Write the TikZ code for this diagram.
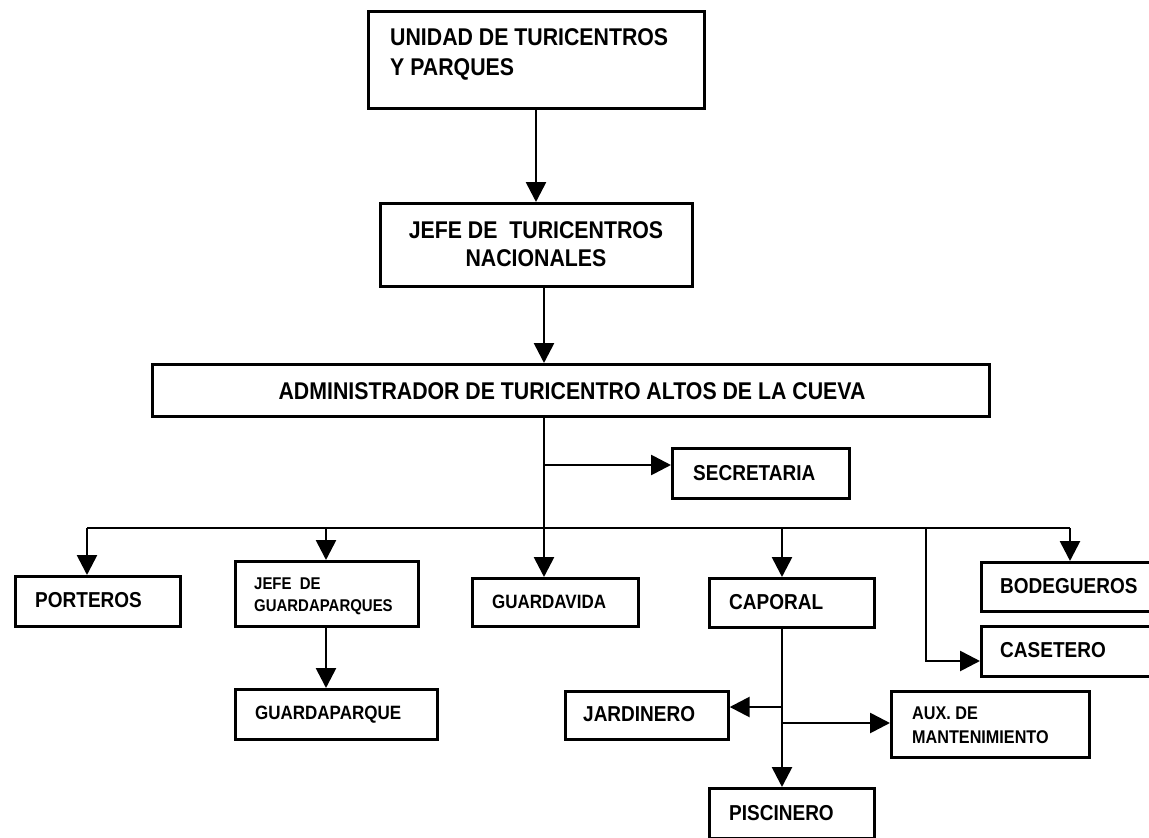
\documentclass[tikz,border=0pt]{standalone}
\usepackage{fontspec}
\setmainfont{Liberation Sans}[FakeStretch=0.88]
\usetikzlibrary{arrows.meta}
\begin{document}
\begin{tikzpicture}[x=1pt,y=-1pt,
  box/.style={draw, line width=2.7pt, inner sep=0pt, anchor=north west},
  conn/.style={line width=2.7pt, -{Triangle[length=20pt,width=20pt]}},
  plain/.style={line width=2.7pt},
  txt/.style={inner sep=0pt, anchor=west, text depth=0pt},
  bigtxt/.style={txt, font=\fontsize{24.2}{25}\selectfont\bfseries, text height=17.3pt},
  midtxt/.style={txt, font=\fontsize{21.6}{22}\selectfont\bfseries, text height=15.5pt},
  smalltxt/.style={txt, font=\fontsize{19.3}{20}\selectfont\bfseries, text height=13.8pt},
  tinytxt/.style={txt, font=\fontsize{17}{18}\selectfont\bfseries, text height=12.2pt},
  auxtxt/.style={txt, font=\fontsize{18.4}{19}\selectfont\bfseries, text height=13.2pt}]
\useasboundingbox (0,0) rectangle (1149,838);
\fill[white] (0,0) rectangle (1149,838);
% boxes
\node[box, minimum width=336pt, minimum height=97pt] (unidad) at (367,10) {};
\node[box, minimum width=312pt, minimum height=83pt] (jefe) at (379,202) {};
\node[box, minimum width=837pt, minimum height=52pt] (admin) at (151,363) {};
\node[box, minimum width=177pt, minimum height=50pt] (sec) at (671,447) {};
\node[box, minimum width=165pt, minimum height=50pt] (port) at (14,575) {};
\node[box, minimum width=183pt, minimum height=65pt] (jefeg) at (234,560) {};
\node[box, minimum width=166pt, minimum height=48pt] (gvida) at (471,577) {};
\node[box, minimum width=165pt, minimum height=49pt] (cap) at (708,577) {};
\node[box, minimum width=178pt, minimum height=49pt] (bod) at (980,561) {};
\node[box, minimum width=178pt, minimum height=50pt] (cas) at (980,625) {};
\node[box, minimum width=202pt, minimum height=50pt] (gparq) at (234,688) {};
\node[box, minimum width=163pt, minimum height=48pt] (jar) at (564,690) {};
\node[box, minimum width=198pt, minimum height=66pt] (aux) at (890,690) {};
\node[box, minimum width=165pt, minimum height=50pt] (pisc) at (708,787) {};
% texts
\node[bigtxt] (t1a) at (390,37) {UNIDAD DE TURICENTROS};
\node[bigtxt] (t1b) at (390,67) {Y PARQUES};
\node[bigtxt, anchor=center] (t2a) at (536,230) {JEFE DE\ \ TURICENTROS};
\node[bigtxt, anchor=center] (t2b) at (536,258) {NACIONALES};
\node[bigtxt, anchor=center] (t3) at (572,391) {ADMINISTRADOR DE TURICENTRO ALTOS DE LA CUEVA};
\node[midtxt] (t4) at (693,473) {SECRETARIA};
\node[midtxt] (t5) at (35,600) {PORTEROS};
\node[tinytxt] (t6a) at (254,583) {JEFE\ \ DE};
\node[tinytxt] (t6b) at (254,605) {GUARDAPARQUES};
\node[smalltxt] (t7) at (492,602) {GUARDAVIDA};
\node[midtxt] (t8) at (729,602) {CAPORAL};
\node[midtxt] (t9) at (1000,586) {BODEGUEROS};
\node[midtxt] (t10) at (1000,650) {CASETERO};
\node[smalltxt] (t11) at (255,713) {GUARDAPARQUE};
\node[midtxt] (t12) at (583,714) {JARDINERO};
\node[auxtxt] (t13a) at (912,713) {AUX. DE};
\node[auxtxt] (t13b) at (912,737) {MANTENIMIENTO};
\node[midtxt] (t14) at (729,813) {PISCINERO};
% reference coordinates
\coordinate (xa) at (536,0);
\coordinate (xb) at (544,0);
\coordinate (xp) at (87,0);
\coordinate (xj) at (326,0);
\coordinate (xc) at (782,0);
\coordinate (xbod) at (1070,0);
\coordinate (xcas) at (926,0);
\coordinate (bus) at (0,528);
\coordinate (ysec) at (0,465);
\coordinate (yjar) at (0,707);
\coordinate (yaux) at (0,723);
\coordinate (ycas) at (0,661);
% connectors
\draw[conn] (unidad.south -| xa) -- (jefe.north -| xa);
\draw[conn] (jefe.south -| xb) -- (admin.north -| xb);
\draw[conn] (admin.south -| xb) -- (gvida.north -| xb);
\draw[conn] (ysec -| xb) -- (ysec -| sec.west);
\draw[plain] (bus -| xp) -- (bus -| xbod);
\draw[conn] (bus -| xp) -- (port.north -| xp);
\draw[conn] (bus -| xj) -- (jefeg.north -| xj);
\draw[conn] (bus -| xc) -- (cap.north -| xc);
\draw[conn] (bus -| xbod) -- (bod.north -| xbod);
\draw[conn] (bus -| xcas) -- (ycas -| xcas) -- (ycas -| cas.west);
\draw[conn] (jefeg.south -| xj) -- (gparq.north -| xj);
\draw[conn] (cap.south -| xc) -- (pisc.north -| xc);
\draw[conn] (yjar -| xc) -- (yjar -| jar.east);
\draw[conn] (yaux -| xc) -- (yaux -| aux.west);
\end{tikzpicture}
\end{document}
